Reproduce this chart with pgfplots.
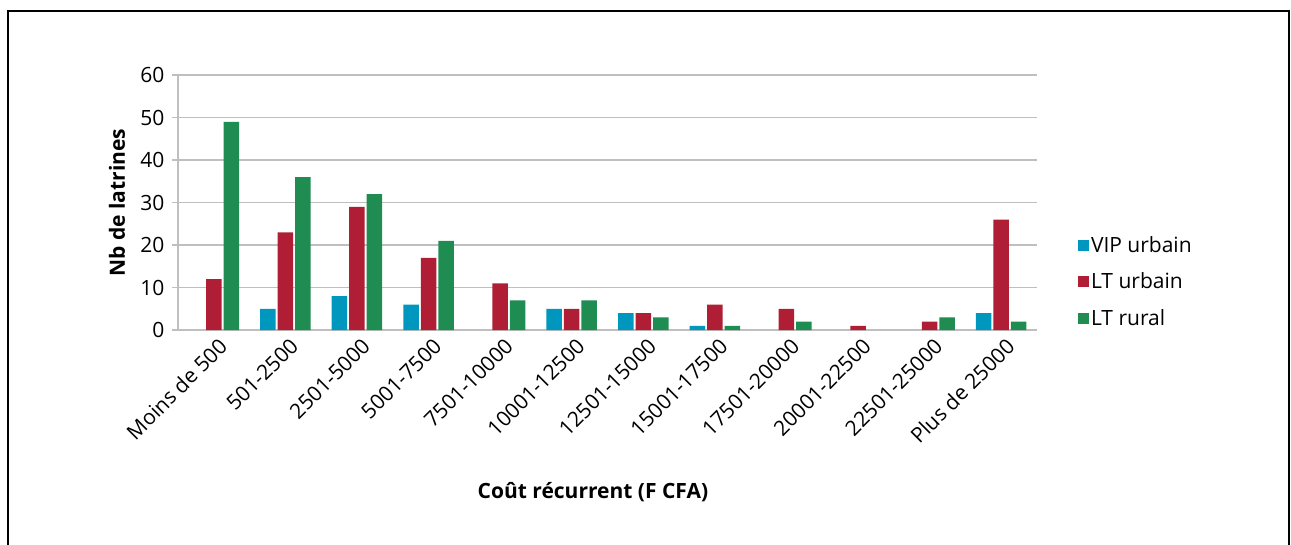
\documentclass[border=0pt]{standalone}
\usepackage{pgfplots}
\pgfplotsset{compat=1.18}
\usepackage{fontspec}
\setmainfont{Open Sans}
\definecolor{cblue}{RGB}{0,151,190}
\definecolor{cred}{RGB}{176,30,54}
\definecolor{cgreen}{RGB}{31,140,82}
\definecolor{cgrid}{RGB}{191,191,191}
\begin{document}
\begin{tikzpicture}
\begin{axis}[
  scale only axis, width=859pt, height=255pt,
  at={(0,0)}, anchor=south west,
  font=\fontsize{21}{24}\selectfont,
  /pgf/number format/assume math mode=true,
  ybar, bar width=15.5pt,
  ymin=0, ymax=60, ytick={0,10,...,60},
  xmin=-0.5, xmax=11.5,
  xtick={0,...,11},
  xticklabels={Moins de 500,501-2500,2501-5000,5001-7500,7501-10000,10001-12500,12501-15000,15001-17500,17501-20000,20001-22500,22501-25000,Plus de 25000},
  x tick label style={rotate=45, anchor=north east, inner sep=1pt, yshift=-2pt, xshift=3pt},
  major x tick style={draw=none},
  extra x ticks={-0.5,0.5,...,11.5},
  extra x tick labels={},
  extra x tick style={major tick length=6pt, tick style={draw=cgrid, line width=1.2pt}, tick align=outside, xticklabel=\empty},
  axis x line*=bottom, axis y line*=left,
  axis line style={draw=cgrid, line width=1.2pt, -},
  y axis line style={-},
  tick align=outside,
  major tick length=6pt,
  y tick style={draw=cgrid, line width=1.2pt},
  ymajorgrids, grid style={draw=cgrid, line width=1.2pt},
  yticklabel style={xshift=-4pt},
  ylabel={\bfseries Nb de latrines},
  ylabel style={at={(axis description cs:-0.071,0.5)}, anchor=center},
  xlabel={\bfseries Coût récurrent (F CFA)},
  xlabel style={at={(axis description cs:0.483,-0.635)}, anchor=center},
  legend style={at={(axis description cs:1.044,0.19)}, anchor=west, draw=none, fill=none, row sep=15pt, font=\fontsize{21}{24}\selectfont},
  legend image code/.code={\fill[#1] (0pt,-5.5pt) rectangle (11pt,5.5pt);},
  legend cell align=left,
  clip=false,
]
\addplot[fill=cblue, draw=none] coordinates {(1,5) (2,8) (3,6) (5,5) (6,4) (7,1) (11,4)};
\addplot[fill=cred, draw=none] coordinates {(0,12) (1,23) (2,29) (3,17) (4,11) (5,5) (6,4) (7,6) (8,5) (9,1) (10,2) (11,26)};
\addplot[fill=cgreen, draw=none] coordinates {(0,49) (1,36) (2,32) (3,21) (4,7) (5,7) (6,3) (7,1) (8,2) (10,3) (11,2)};
\legend{VIP urbain, LT urbain, LT rural}
\end{axis}
\draw[line width=2pt] (-170pt,-220pt) -- (-170pt,319pt) -- (1111pt,319pt) -- (1111pt,-220pt);
\pgfresetboundingbox
\path[use as bounding box] (-178pt,-214pt) rectangle (1113pt,330pt);
\end{tikzpicture}
\end{document}
